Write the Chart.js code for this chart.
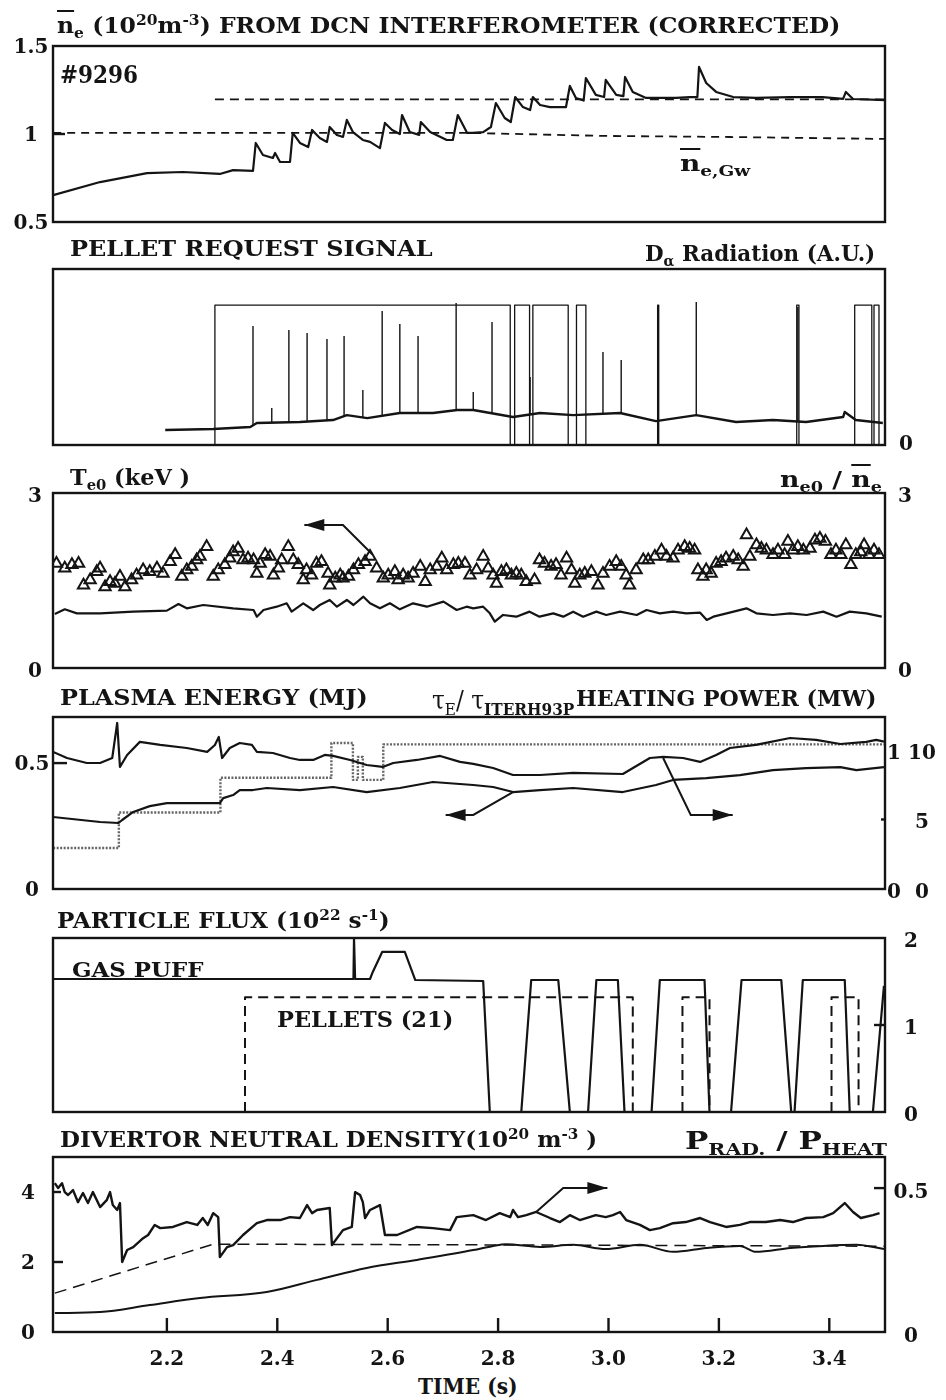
<!DOCTYPE html>
<html lang="en">
<head>
<meta charset="UTF-8">
<title>Shot #9296 - high field side pellet fuelling</title>
<style>
  body { margin: 0; background: #fff; }
  #fig {
    position: relative; width: 946px; height: 1400px; overflow: hidden; background: #fff;
    font-family: "DejaVu Serif", "Liberation Serif", serif; font-weight: bold; color: #141414;
  }
  #fig canvas { position: absolute; left: 0; }
  .lbl { position: absolute; white-space: nowrap; line-height: 1; transform-origin: left center; }
  .tick { position: absolute; white-space: nowrap; line-height: 1; font-size: 20px; transform: translate(-50%, -50%); }
  .ov { text-decoration: overline; }
  sub, sup { font-size: 0.66em; line-height: 0; }
</style>
<script src="https://cdn.jsdelivr.net/npm/chart.js/dist/chart.umd.min.js"></script>
</head>
<body>
<div id="fig"></div>
<script>
// ---------- time axis ----------
const X_MIN = 1.9937, X_MAX = 3.5009;
const X_TICKS = [2.2, 2.4, 2.6, 2.8, 3.0, 3.2, 3.4];
const X_TICK_LABELS = ['2.2', '2.4', '2.6', '2.8', '3.0', '3.2', '3.4'];

// ---------- panel 1: line averaged density ----------
const NE_T = [1.994, 2.079, 2.164, 2.229, 2.296, 2.320, 2.356, 2.361, 2.374, 2.392, 2.396, 2.405, 2.423, 2.428, 2.441, 2.456,
  2.463, 2.477, 2.490, 2.495, 2.508, 2.519, 2.526, 2.537, 2.555, 2.568, 2.586, 2.595, 2.608, 2.622, 2.626, 2.640, 2.657,
  2.660, 2.677, 2.707, 2.718, 2.727, 2.744, 2.754, 2.773, 2.787, 2.796, 2.812, 2.823, 2.831, 2.845, 2.858, 2.863, 2.876,
  2.894, 2.923, 2.930, 2.941, 2.955, 2.959, 2.977, 2.992, 2.995, 3.014, 3.027, 3.030, 3.044, 3.068, 3.093, 3.122, 3.148,
  3.161, 3.164, 3.177, 3.195, 3.226, 3.267, 3.329, 3.388, 3.425, 3.430, 3.443, 3.501];
const NE_V = [0.653, 0.727, 0.778, 0.784, 0.773, 0.795, 0.790, 0.949, 0.881, 0.864, 0.892, 0.841, 0.841, 1.006, 0.949, 0.926,
  1.023, 0.977, 0.955, 1.040, 0.994, 0.983, 1.080, 1.011, 0.966, 0.955, 0.920, 1.063, 1.023, 1.000, 1.108, 1.011, 0.995,
  1.068, 1.011, 0.966, 0.966, 1.108, 1.006, 1.006, 1.011, 1.040, 1.176, 1.091, 1.068, 1.210, 1.153, 1.136, 1.210, 1.165,
  1.153, 1.153, 1.273, 1.205, 1.190, 1.318, 1.222, 1.210, 1.307, 1.222, 1.215, 1.324, 1.239, 1.205, 1.205, 1.205, 1.210,
  1.210, 1.381, 1.290, 1.239, 1.210, 1.205, 1.210, 1.210, 1.200, 1.239, 1.199, 1.193];
const NE_GW_T = [1.994, 2.750, 2.995, 3.220, 3.501];
const NE_GW_V = [1.006, 1.006, 0.989, 0.983, 0.972];
const NE_REF_T = [2.287, 3.501];
const NE_REF_V = [1.197, 1.197];

// ---------- panel 2: pellet request signal and D-alpha ----------
const PREQ_T = [1.990, 2.287, 2.822, 2.830, 2.857, 2.863, 2.927, 2.942, 2.959, 3.089, 3.091, 3.341, 3.345, 3.446, 3.477, 3.481, 3.490, 3.510];
const PREQ_V = [0, 0.795, 0, 0.795, 0, 0.795, 0, 0.795, 0, 0.795, 0, 0.795, 0, 0.795, 0, 0.795, 0, 0];
const DA_T = [2.197, 2.284, 2.351, 2.363, 2.441, 2.501, 2.526, 2.563, 2.622, 2.682, 2.726, 2.755, 2.827, 2.876, 2.936, 3.021,
  3.086, 3.159, 3.231, 3.298, 3.358, 3.425, 3.428, 3.448, 3.497];
const DA_V = [0.085, 0.091, 0.102, 0.125, 0.131, 0.142, 0.170, 0.153, 0.182, 0.182, 0.199, 0.199, 0.159, 0.182, 0.170, 0.182,
  0.136, 0.170, 0.131, 0.142, 0.131, 0.159, 0.188, 0.142, 0.125];
const DA_SPIKE_T = [2.356, 2.390, 2.421, 2.454, 2.490, 2.521, 2.555, 2.590, 2.622, 2.655, 2.724, 2.755, 2.789, 2.858, 2.990, 3.023, 3.090, 3.159, 3.343];
const DA_SPIKE_V = [0.676, 0.210, 0.653, 0.636, 0.602, 0.619, 0.313, 0.761, 0.688, 0.619, 0.807, 0.301, 0.699, 0.386, 0.528, 0.483, 0.784, 0.813, 0.784];

// ---------- panel 3: central Te (triangles) and peaking factor ----------
const TE_T = [2.000, 2.015, 2.028, 2.040, 2.049, 2.061, 2.073, 2.079, 2.088, 2.097, 2.106, 2.115, 2.124, 2.136, 2.145, 2.157,
  2.169, 2.182, 2.193, 2.206, 2.215, 2.227, 2.236, 2.245, 2.254, 2.260, 2.272, 2.284, 2.293, 2.305, 2.314, 2.320, 2.329,
  2.338, 2.347, 2.357, 2.363, 2.369, 2.378, 2.387, 2.393, 2.402, 2.408, 2.420, 2.429, 2.438, 2.447, 2.453, 2.462, 2.471,
  2.480, 2.492, 2.495, 2.505, 2.514, 2.519, 2.529, 2.538, 2.547, 2.559, 2.568, 2.580, 2.592, 2.601, 2.613, 2.619, 2.628,
  2.637, 2.646, 2.659, 2.668, 2.677, 2.689, 2.698, 2.707, 2.719, 2.728, 2.740, 2.749,
  2.761, 2.773, 2.782, 2.791, 2.797, 2.806, 2.815, 2.824, 2.833, 2.842, 2.851, 2.866, 2.875, 2.884, 2.896, 2.905, 2.914,
  2.924, 2.933, 2.939, 2.948, 2.957, 2.969, 2.981, 2.990, 3.002, 3.014, 3.023, 3.032, 3.038, 3.050, 3.063, 3.072, 3.084,
  3.096, 3.105, 3.117, 3.126, 3.138, 3.147, 3.156, 3.162, 3.171, 3.177, 3.186, 3.195, 3.204, 3.213, 3.226, 3.235, 3.244,
  3.250, 3.256, 3.268, 3.277, 3.286, 3.298, 3.307, 3.319, 3.325, 3.334, 3.343, 3.353, 3.365, 3.374, 3.383, 3.393, 3.403,
  3.412, 3.421, 3.430, 3.439, 3.448, 3.457, 3.463, 3.472, 3.481, 3.490];
const TE_V = [1.79, 1.71, 1.77, 1.79, 1.42, 1.51, 1.65, 1.71, 1.39, 1.48, 1.45, 1.57, 1.39, 1.51, 1.59, 1.68,
  1.65, 1.71, 1.62, 1.82, 1.94, 1.57, 1.68, 1.74, 1.85, 1.91, 2.08, 1.57, 1.68, 1.77, 1.88, 1.99, 2.05,
  1.85, 1.88, 1.85, 1.62, 1.79, 1.94, 1.91, 1.59, 1.71, 1.85, 2.08, 1.85, 1.77, 1.51, 1.68, 1.59, 1.79,
  1.82, 1.62, 1.42, 1.54, 1.59, 1.54, 1.57, 1.68, 1.77, 1.82, 1.91, 1.71, 1.54, 1.59, 1.65, 1.51, 1.59,
  1.54, 1.62, 1.74, 1.48, 1.68, 1.74, 1.88, 1.68, 1.77, 1.79, 1.79, 1.59,
  1.68, 1.91, 1.71, 1.59, 1.45, 1.65, 1.68, 1.59, 1.62, 1.59, 1.48, 1.51, 1.85, 1.79, 1.74, 1.77, 1.59,
  1.88, 1.68, 1.45, 1.59, 1.62, 1.65, 1.42, 1.62, 1.74, 1.82, 1.74, 1.59, 1.42, 1.68, 1.85, 1.85, 1.91,
  2.02, 1.91, 1.88, 2.02, 2.08, 2.05, 2.02, 1.68, 1.57, 1.68, 1.62, 1.79, 1.82, 1.88, 1.91, 1.85, 1.74,
  2.28, 1.91, 2.11, 2.05, 2.02, 1.94, 2.02, 1.94, 2.17, 2.02, 2.08, 2.02, 2.05, 2.19, 2.22, 2.17, 1.94,
  2.02, 1.94, 2.11, 1.77, 1.94, 1.99, 2.11, 1.94, 2.02, 1.94];
const NE0_T = [1.997, 2.015, 2.037, 2.079, 2.139, 2.200, 2.221, 2.236, 2.266, 2.320, 2.357, 2.363, 2.375, 2.399, 2.417, 2.426,
  2.447, 2.465, 2.477, 2.495, 2.508, 2.526, 2.538, 2.556, 2.568, 2.586, 2.604, 2.622, 2.646, 2.671, 2.701, 2.725, 2.743,
  2.755, 2.773, 2.785, 2.794, 2.809, 2.833, 2.857, 2.875, 2.900, 2.918, 2.936, 2.954, 2.978, 2.996, 3.021, 3.051, 3.069,
  3.093, 3.117, 3.141, 3.166, 3.178, 3.190, 3.214, 3.250, 3.268, 3.298, 3.329, 3.359, 3.389, 3.413, 3.437, 3.467, 3.495];
const NE0_V = [0.926, 1.006, 0.937, 0.937, 0.966, 0.983, 1.097, 1.023, 1.080, 1.023, 0.994, 0.880, 0.994, 1.051, 1.109, 0.966,
  1.109, 0.994, 1.080, 1.166, 1.051, 1.166, 1.080, 1.223, 1.109, 1.023, 1.109, 1.006, 1.109, 1.051, 1.137, 0.994, 1.051,
  1.023, 1.051, 0.937, 0.794, 0.909, 0.880, 0.966, 0.880, 0.937, 0.880, 0.966, 0.880, 0.966, 0.909, 0.966, 0.909, 0.994,
  0.937, 0.966, 0.937, 0.949, 0.823, 0.880, 0.937, 1.023, 0.937, 0.909, 0.937, 0.909, 0.966, 0.880, 0.966, 0.937, 0.880];

// ---------- panel 4: stored energy, confinement ratio, heating power ----------
const TAU_T = [1.994, 2.019, 2.055, 2.079, 2.101, 2.110, 2.115, 2.128, 2.151, 2.188, 2.236, 2.273, 2.287, 2.294, 2.300, 2.314,
  2.332, 2.354, 2.363, 2.392, 2.423, 2.441, 2.465, 2.486, 2.501, 2.532, 2.562, 2.591, 2.610, 2.653, 2.695, 2.731, 2.755,
  2.791, 2.827, 2.876, 2.936, 3.026, 3.075, 3.099, 3.135, 3.166, 3.195, 3.220, 3.267, 3.329, 3.376, 3.420, 3.467, 3.485, 3.499];
const TAU_V = [0.986, 0.942, 0.906, 0.906, 0.942, 1.194, 0.878, 0.964, 1.058, 1.036, 1.014, 0.986, 1.036, 1.094, 0.942, 1.014,
  1.050, 1.036, 0.986, 0.978, 0.942, 0.928, 0.928, 0.964, 0.957, 0.928, 0.892, 0.878, 0.906, 0.928, 0.957, 0.914, 0.900,
  0.870, 0.820, 0.820, 0.835, 0.827, 0.942, 0.950, 0.942, 0.914, 0.964, 1.014, 1.036, 1.086, 1.072, 1.043, 1.058, 1.072, 1.060];
const W_T = [1.994, 2.079, 2.112, 2.119, 2.139, 2.169, 2.200, 2.236, 2.273, 2.296, 2.302, 2.320, 2.332, 2.356, 2.381, 2.441,
  2.501, 2.562, 2.622, 2.682, 2.755, 2.791, 2.827, 2.876, 2.936, 3.026, 3.086, 3.117, 3.177, 3.238, 3.298, 3.358, 3.420, 3.449, 3.499];
const W_V = [0.286, 0.266, 0.262, 0.274, 0.306, 0.329, 0.341, 0.341, 0.341, 0.341, 0.361, 0.373, 0.393, 0.393, 0.401, 0.393,
  0.405, 0.385, 0.401, 0.425, 0.413, 0.405, 0.385, 0.393, 0.401, 0.385, 0.413, 0.433, 0.440, 0.452, 0.472, 0.480, 0.484, 0.472, 0.484];
const PHEAT_T = [1.994, 2.113, 2.297, 2.498, 2.537, 2.546, 2.555, 2.592, 3.501];
const PHEAT_V = [2.95, 5.50, 8.00, 10.50, 7.85, 9.50, 7.85, 10.40, 10.30];

// ---------- panel 5: particle flux ----------
const GAS_T = [1.994, 2.538, 2.539, 2.541, 2.568, 2.573, 2.590, 2.631, 2.650, 2.773, 2.785, 2.842, 2.860, 2.909, 2.930, 2.963,
  2.978, 3.017, 3.029, 3.078, 3.093, 3.174, 3.183, 3.222, 3.241, 3.313, 3.331, 3.337, 3.352, 3.428, 3.437, 3.479, 3.499];
const GAS_V = [1.529, 1.529, 2.000, 1.529, 1.529, 1.610, 1.840, 1.840, 1.517, 1.506, 0, 0, 1.517, 1.517, 0, 0,
  1.517, 1.517, 0, 0, 1.517, 1.517, 0, 0, 1.517, 1.517, 0, 0, 1.517, 1.517, 0, 0, 1.450];
const PELLET_T = [2.3415, 2.3415, 3.044, 3.044, null, 3.134, 3.134, 3.183, 3.183, null, 3.404, 3.404, 3.453, 3.453];
const PELLET_V = [0, 1.32, 1.32, 0, null, 0, 1.32, 1.32, 0, null, 0, 1.32, 1.32, 0];

// ---------- panel 6: divertor neutral density and radiated fraction ----------
const PRAD_T = [1.997, 2.003, 2.010, 2.015, 2.021, 2.030, 2.039, 2.048, 2.057, 2.066, 2.079, 2.091, 2.097, 2.102, 2.110, 2.115,
  2.119, 2.128, 2.139, 2.157, 2.166, 2.178, 2.188, 2.211, 2.236, 2.255, 2.265, 2.274, 2.284, 2.293, 2.296, 2.309, 2.320,
  2.338, 2.363, 2.381, 2.405, 2.423, 2.441, 2.454, 2.463, 2.472, 2.495, 2.499, 2.519, 2.535, 2.541, 2.550, 2.555, 2.559,
  2.568, 2.586, 2.595, 2.617, 2.653, 2.682, 2.713, 2.725, 2.755, 2.778, 2.803, 2.822, 2.827, 2.836, 2.851, 2.869, 2.894,
  2.912, 2.930, 2.948, 2.977, 2.995, 3.008, 3.021, 3.032, 3.057, 3.075, 3.093, 3.117, 3.140, 3.166, 3.184, 3.213, 3.238,
  3.256, 3.285, 3.311, 3.334, 3.358, 3.389, 3.407, 3.428, 3.443, 3.457, 3.479, 3.491];
const PRAD_V = [0.517, 0.500, 0.517, 0.486, 0.476, 0.493, 0.451, 0.483, 0.448, 0.486, 0.434, 0.458, 0.486, 0.441, 0.424, 0.448,
  0.243, 0.285, 0.295, 0.326, 0.337, 0.372, 0.361, 0.365, 0.382, 0.372, 0.396, 0.372, 0.413, 0.399, 0.260, 0.295, 0.302,
  0.337, 0.378, 0.389, 0.389, 0.399, 0.396, 0.441, 0.413, 0.424, 0.431, 0.302, 0.354, 0.365, 0.486, 0.476, 0.451, 0.396,
  0.424, 0.441, 0.337, 0.337, 0.365, 0.361, 0.354, 0.399, 0.406, 0.389, 0.413, 0.399, 0.424, 0.399, 0.406, 0.417, 0.396,
  0.382, 0.406, 0.389, 0.406, 0.399, 0.406, 0.417, 0.389, 0.372, 0.354, 0.361, 0.378, 0.382, 0.396, 0.382, 0.365, 0.372,
  0.382, 0.382, 0.389, 0.382, 0.396, 0.399, 0.413, 0.448, 0.417, 0.396, 0.406, 0.413];
const DIV_T = [1.997, 2.079, 2.169, 2.260, 2.381, 2.472, 2.562, 2.653, 2.755, 2.791, 2.814, 2.876, 2.936, 2.995, 3.057, 3.117,
  3.177, 3.238, 3.267, 3.329, 3.389, 3.449, 3.499];
const DIV_V = [0.54, 0.57, 0.77, 0.97, 1.14, 1.49, 1.83, 2.06, 2.34, 2.46, 2.51, 2.43, 2.49, 2.37, 2.49, 2.29,
  2.40, 2.46, 2.29, 2.40, 2.46, 2.49, 2.37];
const DIV_REF_T = [1.997, 2.284, 2.755, 3.499];
const DIV_REF_V = [1.11, 2.51, 2.49, 2.45];

// ---------- drawing ----------
const INK = '#141414';
const PLOT_LEFT = 53, PLOT_RIGHT = 885, PAD = 16;
const fig = document.getElementById('fig');

const pts = (t, v) => t.map((x, i) => ({ x: x === null ? NaN : x, y: v[i] }));
function interp(t, v, x) {
  for (let i = 1; i < t.length; i++) if (x <= t[i]) return v[i - 1] + (v[i] - v[i - 1]) * (x - t[i - 1]) / (t[i] - t[i - 1]);
  return v[v.length - 1];
}
function line(data, yAxisID, extra) {
  return Object.assign({ data, yAxisID, borderColor: INK, borderWidth: 2, pointRadius: 0, fill: false,
    tension: 0, spanGaps: false, borderJoinStyle: 'round' }, extra || {});
}

function decoPlugin(deco) {
  return {
    id: 'deco',
    afterDatasetsDraw(chart) {
      const ctx = chart.ctx, a = chart.chartArea;
      ctx.save();
      ctx.strokeStyle = INK; ctx.fillStyle = INK; ctx.lineWidth = 2.4;
      ctx.strokeRect(a.left, a.top, a.right - a.left, a.bottom - a.top);
      (deco.marks || []).forEach(m => {
        const y = chart.scales[m.axis].getPixelForValue(m.value);
        ctx.beginPath();
        if (m.side === 'left') { ctx.moveTo(a.left, y); ctx.lineTo(a.left + m.len, y); }
        else { ctx.moveTo(a.right, y); ctx.lineTo(a.right - m.len, y); }
        ctx.stroke();
      });
      (deco.xTicks || []).forEach(v => {
        const x = chart.scales.x.getPixelForValue(v);
        ctx.beginPath(); ctx.moveTo(x, a.bottom); ctx.lineTo(x, a.bottom - 14); ctx.stroke();
      });
      (deco.arrows || []).forEach(ar => {
        const xs = chart.scales.x, ys = chart.scales[ar.axis];
        const p = ar.t.map((t, i) => [xs.getPixelForValue(t), ys.getPixelForValue(ar.v[i])]);
        ctx.lineWidth = 2;
        ctx.beginPath();
        p.forEach((q, i) => i ? ctx.lineTo(q[0], q[1]) : ctx.moveTo(q[0], q[1]));
        ctx.stroke();
        const [x1, y1] = p[p.length - 2], [x2, y2] = p[p.length - 1];
        const ang = Math.atan2(y2 - y1, x2 - x1), L = 20, W = 6;
        ctx.beginPath();
        ctx.moveTo(x2, y2);
        ctx.lineTo(x2 - L * Math.cos(ang) + W * Math.sin(ang), y2 - L * Math.sin(ang) - W * Math.cos(ang));
        ctx.lineTo(x2 - L * Math.cos(ang) - W * Math.sin(ang), y2 - L * Math.sin(ang) + W * Math.cos(ang));
        ctx.closePath(); ctx.fill();
      });
      ctx.restore();
    }
  };
}

function addTick(text, cx, cy) {
  const d = document.createElement('div');
  d.className = 'tick'; d.textContent = text;
  d.style.left = cx + 'px'; d.style.top = cy + 'px';
  fig.appendChild(d);
}

function addText(html, x, cy, size, width) {
  const d = document.createElement('div');
  d.className = 'lbl'; d.innerHTML = html;
  d.style.left = x + 'px'; d.style.top = cy + 'px'; d.style.fontSize = size + 'px';
  fig.appendChild(d);
  const k = width / d.offsetWidth;
  d.style.transform = 'translateY(-50%) scaleX(' + k.toFixed(3) + ')';
}

function makePanel(box, yScales, datasets, deco, tickSets) {
  const cv = document.createElement('canvas');
  cv.width = 946; cv.height = box[1] - box[0] + 2 * PAD;
  cv.style.top = (box[0] - PAD) + 'px';
  fig.appendChild(cv);
  const scales = { x: { type: 'linear', min: X_MIN, max: X_MAX, display: false } };
  Object.keys(yScales).forEach(k => {
    scales[k] = { type: 'linear', display: false, min: yScales[k][0], max: yScales[k][1] };
  });
  const chart = new Chart(cv, {
    type: 'line',
    data: { datasets },
    options: {
      responsive: false, animation: false, events: [],
      layout: { padding: { left: PLOT_LEFT, right: 946 - PLOT_RIGHT, top: PAD, bottom: PAD } },
      plugins: { legend: { display: false }, tooltip: { enabled: false } },
      scales
    },
    plugins: [decoPlugin(deco)]
  });
  const off = box[0] - PAD;
  (tickSets || []).forEach(s => s.values.forEach((v, i) => {
    addTick(s.labels[i], s.cx, chart.scales[s.axis].getPixelForValue(v) + off + (s.dy || 0));
  }));
  return chart;
}

// panel 1
makePanel([46, 222], { y: [0.5, 1.5] }, [
  line(pts(NE_T, NE_V), 'y', { borderWidth: 2.2 }),
  line(pts(NE_GW_T, NE_GW_V), 'y', { borderWidth: 1.8, borderDash: [8, 6] }),
  line(pts(NE_REF_T, NE_REF_V), 'y', { borderWidth: 1.8, borderDash: [9, 6] })
], { marks: [{ axis: 'y', value: 1, side: 'left', len: 12 }] },
[{ axis: 'y', values: [0.5, 1, 1.5], labels: ['0.5', '1', '1.5'], cx: 31 }]);

// panel 2
const spikes = [];
DA_SPIKE_T.forEach((t, i) => {
  spikes.push({ x: t, y: interp(DA_T, DA_V, t) }, { x: t, y: DA_SPIKE_V[i] }, { x: t, y: null });
});
makePanel([269, 445], { y: [0, 1] }, [
  line(pts(DA_T, DA_V), 'y', { borderWidth: 2.4 }),
  line(spikes, 'y', { borderWidth: 1.4 }),
  line(pts(PREQ_T, PREQ_V), 'y', { borderWidth: 1.3, stepped: 'before' })
], {}, [{ axis: 'y', values: [0], labels: ['0'], cx: 906, dy: -2 }]);

// panel 3
makePanel([493, 668], { y: [0, 3], y2: [0, 3] }, [
  line(pts(TE_T, TE_V), 'y', { showLine: false, pointStyle: 'triangle', pointRadius: 6.5, pointBorderWidth: 2,
    pointBorderColor: INK, pointBackgroundColor: 'rgba(255,255,255,0)' }),
  line(pts(NE0_T, NE0_V), 'y2', { borderWidth: 2.2 })
], { arrows: [{ axis: 'y', t: [2.572, 2.519, 2.449], v: [1.95, 2.45, 2.45] }] },
[{ axis: 'y', values: [0, 3], labels: ['0', '3'], cx: 35, dy: 2 },
 { axis: 'y2', values: [0, 3], labels: ['0', '3'], cx: 905, dy: 2 }]);

// panel 4
makePanel([717, 889], { yW: [0, 0.683], yTau: [0, 1.237], yP: [0, 12.37] }, [
  line(pts(TAU_T, TAU_V), 'yTau', { borderWidth: 2.2 }),
  line(pts(W_T, W_V), 'yW', { borderWidth: 2.2 }),
  line(pts(PHEAT_T, PHEAT_V), 'yP', { borderColor: '#666', borderWidth: 2.4, borderDash: [2, 1.5], stepped: 'before' })
], {
  marks: [{ axis: 'yW', value: 0.5, side: 'left', len: 14 }, { axis: 'yP', value: 5, side: 'right', len: 4 }],
  arrows: [{ axis: 'yW', t: [2.827, 2.755, 2.705], v: [0.385, 0.294, 0.294] },
           { axis: 'yTau', t: [3.099, 3.149, 3.225], v: [0.942, 0.532, 0.532] }]
}, [{ axis: 'yW', values: [0, 0.5], labels: ['0', '0.5'], cx: 32 },
    { axis: 'yTau', values: [0, 1], labels: ['0', '1'], cx: 894, dy: 2 },
    { axis: 'yP', values: [0, 5, 10], labels: ['0', '5', '10'], cx: 922, dy: 2 }]);

// panel 5
makePanel([938, 1112], { y: [0, 2] }, [
  line(pts(GAS_T, GAS_V), 'y', { borderWidth: 2.2 }),
  line(pts(PELLET_T, PELLET_V), 'y', { borderWidth: 2, borderDash: [10, 6] })
], { marks: [{ axis: 'y', value: 1, side: 'right', len: 11 }] },
[{ axis: 'y', values: [0, 1, 2], labels: ['0', '1', '2'], cx: 911, dy: 2 }]);

// panel 6
const last = makePanel([1157, 1332], { yN: [0, 5], yR: [0, 0.608] }, [
  line(pts(PRAD_T, PRAD_V), 'yR', { borderWidth: 2.4 }),
  line(pts(DIV_T, DIV_V), 'yN', { tension: 0.4, cubicInterpolationMode: 'monotone' }),
  line(pts(DIV_REF_T, DIV_REF_V), 'yN', { borderWidth: 1.5, borderDash: [12, 7] })
], {
  xTicks: X_TICKS,
  marks: [{ axis: 'yN', value: 2, side: 'left', len: 10 }, { axis: 'yN', value: 4, side: 'left', len: 8 },
          { axis: 'yR', value: 0.5, side: 'right', len: 11 }],
  arrows: [{ axis: 'yR', t: [2.869, 2.918, 2.998], v: [0.417, 0.5, 0.5] }]
}, [{ axis: 'yN', values: [0, 2, 4], labels: ['0', '2', '4'], cx: 28 },
    { axis: 'yR', values: [0, 0.5], labels: ['0', '0.5'], cx: 911, dy: 3 }]);
X_TICKS.forEach((v, i) => addTick(X_TICK_LABELS[i], last.scales.x.getPixelForValue(v), 1358));

// titles and in-plot labels
addText('<span class="ov">n</span><sub>e</sub> (10<sup>20</sup>m<sup>-3</sup>) FROM DCN INTERFEROMETER (CORRECTED)', 57, 25, 22, 783);
addText('#9296', 60, 75, 24, 78);
addText('<span class="ov">n</span><sub>e,Gw</sub>', 680, 163, 22, 70);
addText('PELLET REQUEST SIGNAL', 70, 248, 22, 363);
addText('D<sub>α</sub> Radiation (A.U.)', 645, 253, 22, 230);
addText('T<sub>e0</sub> (keV )', 70, 477, 22, 120);
addText('n<sub>e0</sub> / <span class="ov">n</span><sub>e</sub>', 780, 479, 22, 102);
addText('PLASMA ENERGY (MJ)', 60, 697, 22, 308);
addText('<span style="font-weight:normal">τ<sub>E</sub>/ τ</span><sub>ITERH93P</sub>', 432, 700, 26, 142);
addText('HEATING POWER (MW)', 576, 698, 22, 301);
addText('PARTICLE FLUX (10<sup>22</sup> s<sup>-1</sup>)', 57, 920, 22, 333);
addText('GAS PUFF', 72, 969, 21, 132);
addText('PELLETS (21)', 277, 1019, 22, 176);
addText('DIVERTOR NEUTRAL DENSITY(10<sup>20</sup> m<sup>-3</sup> )', 60, 1139, 22, 537);
addText('P<sub>RAD.</sub> / P<sub>HEAT</sub>', 685, 1141, 24, 202);
addText('TIME (s)', 418, 1386, 22, 100);
</script>
</body>
</html>
